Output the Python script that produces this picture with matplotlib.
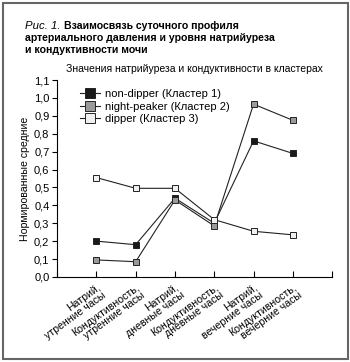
import matplotlib
matplotlib.use("Agg")
import matplotlib.pyplot as plt
from matplotlib.patches import Rectangle

plt.rcParams["font.family"] = ["Liberation Sans", "DejaVu Sans"]

categories = [
    "Натрий,\nутренние часы",
    "Кондуктивность,\nутренние часы",
    "Натрий,\nдневные часы",
    "Кондуктивность,\nдневные часы",
    "Натрий,\nвечерние часы",
    "Кондуктивность,\nвечерние часы",
]
non_dipper = [0.20, 0.18, 0.44, 0.30, 0.76, 0.69]
night_peaker = [0.095, 0.085, 0.43, 0.285, 0.965, 0.875]
dipper = [0.555, 0.495, 0.495, 0.32, 0.255, 0.235]
y_ticks = [0.0, 0.1, 0.2, 0.3, 0.4, 0.5, 0.6, 0.7, 0.8, 0.9, 1.0, 1.1]

series = [
    ("non-dipper (Кластер 1)", non_dipper, "#1a1a1a"),
    ("night-peaker (Кластер 2)", night_peaker, "#9a9a9a"),
    ("dipper (Кластер 3)", dipper, "#f0f0f0"),
]

fig = plt.figure(figsize=(3.5, 3.62), dpi=100)
ax = fig.add_axes([0.163, 0.235, 0.786, 0.544])

x = list(range(len(categories)))
for label, vals, fc in series:
    ax.plot(x, vals, color="#222222", lw=0.8, marker="s", ms=3.8,
            mfc=fc, mec="#222222", mew=0.7, label=label)

ax.set_xlim(-1, len(categories))
ax.set_ylim(0, 1.1)
ax.set_yticks(y_ticks)
ax.set_yticklabels([f"{v:.1f}".replace(".", ",") for v in y_ticks], fontsize=8)
ax.set_xticks(list(range(-1, len(categories) + 1)))
ax.set_xticklabels([""] + categories + [""], fontsize=7.6, rotation=36,
                   ha="right", va="top", rotation_mode="anchor", linespacing=0.88)
ax.tick_params(axis="x", direction="in", length=4, width=0.8, pad=4)
ax.tick_params(axis="y", direction="out", length=3.5, width=0.8, pad=2)
ax.spines["top"].set_visible(False)
ax.spines["right"].set_visible(False)
ax.spines["left"].set_linewidth(0.8)
ax.spines["bottom"].set_linewidth(0.8)
ax.set_ylabel("Нормированные средние", fontsize=7.6, labelpad=3)

ax.legend(loc="upper left", bbox_to_anchor=(0.068, 0.975), frameon=False,
          fontsize=8, markerscale=1.9, handlelength=1.8, handletextpad=0.4,
          labelspacing=0.2, borderaxespad=0)

ax.set_title("Значения натрийуреза и кондуктивности в кластерах",
             fontsize=7.5, pad=6)

# caption
t1 = fig.text(25 / 350, 1 - 26 / 362, "Рис. 1.", fontsize=8.2, style="italic",
              va="center", ha="left")
fig.canvas.draw()
bb = t1.get_window_extent()
x2 = (bb.x1 + 4) / fig.bbox.width
fig.text(x2, 1 - 26 / 362, "Взаимосвязь суточного профиля",
         fontsize=7.6, weight="bold", va="center", ha="left")
fig.text(25 / 350, 1 - 38 / 362, "артериального давления и уровня натрийуреза",
         fontsize=7.6, weight="bold", va="center", ha="left")
fig.text(25 / 350, 1 - 50 / 362, "и кондуктивности мочи",
         fontsize=7.6, weight="bold", va="center", ha="left")

fig.patches.append(Rectangle((2.5 / 350, 3.5 / 362), 345 / 350, 356 / 362,
                             transform=fig.transFigure, fill=False,
                             edgecolor="#666666", lw=1.5))

fig.savefig("out.png", dpi=100)
